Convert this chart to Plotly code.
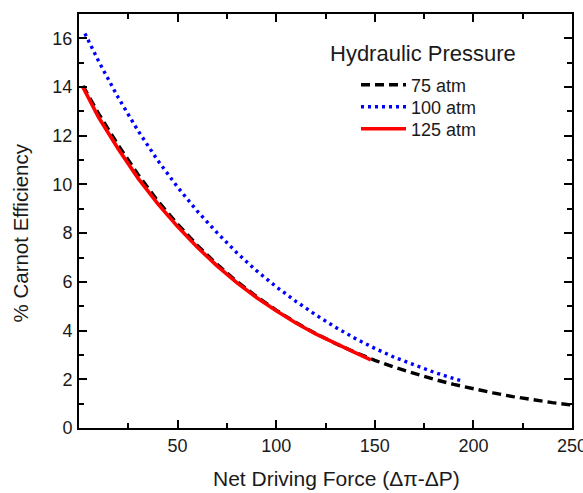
import plotly.graph_objects as go

# Net driving force values (x) and % Carnot efficiency (y)
x_75 = [2, 10, 20, 30, 40, 50, 60, 70, 80, 90, 100, 110, 120, 130, 140, 150,
        160, 170, 180, 190, 200, 210, 220, 230, 240, 250]
y_75 = [14.05, 12.9, 11.6, 10.4, 9.32, 8.37, 7.5, 6.72, 6.02, 5.4, 4.84, 4.33,
        3.88, 3.47, 3.11, 2.78, 2.49, 2.23, 2.0, 1.79, 1.6, 1.44, 1.29, 1.16, 1.04, 0.94]

x_100 = [3, 10, 20, 30, 40, 50, 60, 70, 80, 90, 100, 110, 120, 130, 140, 150,
         160, 170, 180, 190, 194]
y_100 = [16.2, 15.05, 13.55, 12.2, 10.98, 9.89, 8.9, 8.02, 7.2, 6.46, 5.8, 5.2,
         4.65, 4.14, 3.68, 3.27, 2.9, 2.58, 2.29, 2.03, 1.94]

x_125 = [2, 10, 20, 30, 40, 50, 60, 70, 80, 90, 100, 110, 120, 130, 140, 148]
y_125 = [14.0, 12.75, 11.45, 10.25, 9.2, 8.27, 7.42, 6.66, 5.97, 5.36, 4.81,
         4.31, 3.86, 3.46, 3.1, 2.8]

series_names = ["75 atm", "100 atm", "125 atm"]
x_ticks = [50, 100, 150, 200, 250]
y_ticks = [0, 2, 4, 6, 8, 10, 12, 14, 16]

FONT = "Liberation Sans, Arial, sans-serif"
TXT = "#1a1a1a"

W, H = 583, 493
L, R, T, B = 79, 11, 14, 65
PW, PH = W - L - R, H - T - B


def px_x(p):
    return (p - L) / PW


def px_y(p):
    return (H - B - p) / PH


fig = go.Figure()
fig.add_trace(go.Scatter(x=x_75, y=y_75, mode="lines", name=series_names[0], legend="legend",
                         line=dict(color="black", width=3.4, dash="9px,5px")))
fig.add_trace(go.Scatter(x=x_100, y=y_100, mode="lines", name=series_names[1], legend="legend2",
                         line=dict(color="#0000ff", width=3.4, dash="3px,4px")))
fig.add_trace(go.Scatter(x=x_125, y=y_125, mode="lines", name=series_names[2], legend="legend3",
                         line=dict(color="#ff0000", width=3.6)))

axis_common = dict(
    showline=True, linecolor="black", linewidth=2, mirror="allticks",
    ticks="inside", ticklen=8, tickwidth=2, tickcolor="black",
    showgrid=False, zeroline=False, automargin=False,
    tickfont=dict(family=FONT, size=18, color=TXT),
)

fig.update_xaxes(
    range=[0, 250], tickvals=x_ticks, **axis_common, ticklabeloverflow="allow",
    minor=dict(ticks="inside", ticklen=5, tickwidth=2, tickcolor="black", dtick=25, tick0=0),
)
fig.update_yaxes(
    range=[0, 17], tickvals=y_ticks, **axis_common,
    minor=dict(ticks="inside", ticklen=5, tickwidth=2, tickcolor="black", dtick=1, tick0=0),
    ticklabelstandoff=1,
)

# axis titles
fig.add_annotation(text="Net Driving Force (\u0394\u03c0-\u0394P)", xref="paper", yref="paper",
                   x=px_x(336), y=px_y(478), xanchor="center", yanchor="middle",
                   showarrow=False, font=dict(family=FONT, size=21, color=TXT))
fig.add_annotation(text="% Carnot Efficiency", xref="paper", yref="paper",
                   x=px_x(19.5), y=px_y(233), xanchor="center", yanchor="middle", textangle=-90,
                   showarrow=False, font=dict(family=FONT, size=20.5, color=TXT))
# legend title
fig.add_annotation(text="Hydraulic Pressure", xref="paper", yref="paper",
                   x=px_x(328), y=px_y(54), xanchor="left", yanchor="middle",
                   showarrow=False, font=dict(family=FONT, size=22, color=TXT))

leg_common = dict(xanchor="left", yanchor="middle", bgcolor="rgba(0,0,0,0)",
                  font=dict(family=FONT, size=18, color=TXT), itemwidth=45)

fig.update_layout(
    width=W, height=H,
    margin=dict(l=L, r=R, t=T, b=B),
    paper_bgcolor="white", plot_bgcolor="white",
    showlegend=True,
    legend=dict(x=px_x(356), y=px_y(85), **leg_common),
    legend2=dict(x=px_x(356), y=px_y(107), **leg_common),
    legend3=dict(x=px_x(356), y=px_y(129), **leg_common),
)

fig.write_html("out.html", config={"displayModeBar": False},
               post_script="document.body.style.margin='0';document.body.style.padding='0';")
